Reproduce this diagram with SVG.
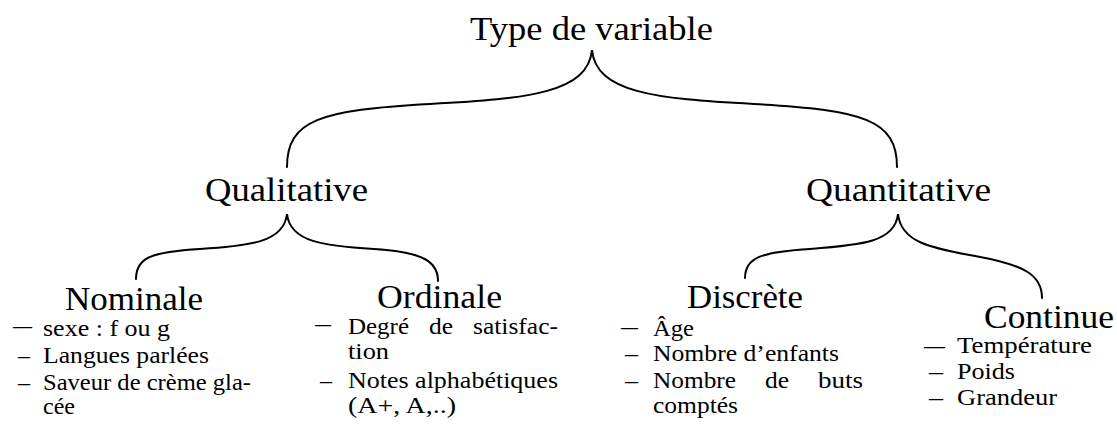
<svg xmlns="http://www.w3.org/2000/svg" width="1117" height="427" viewBox="0 0 1117 427">
<style>
.h{font-size:34px}
.i{font-size:24px}
.br{fill:none;stroke:#000;stroke-width:2;stroke-linecap:round}
</style>
<rect width="1117" height="427" fill="#fff"/>
<g id="connectors">
<path class="br" d="M287,167 C287,120 320,110 430,104 C530,99 588,92 592,50 C596,92 654,99 754,104 C864,110 897,120 897,167"/>
<path class="br" d="M136,279 C136,258 150,252 200,249 C250,246 284,242 287,214 C290,242 324,246 374,249 C424,252 438,262 438,281"/>
<path class="br" d="M745,278 C745,258 760,252 810,249 C862,245 895,242 898,214 C901,242 930,248 975,256 C1025,265 1042,275 1042,298"/>
</g>
<g font-family="Liberation Serif, Times New Roman, serif" fill="#000">
<g id="type">
<text class="h" x="470" y="40" textLength="243" lengthAdjust="spacingAndGlyphs">Type de variable</text>
</g>
<g id="qualitative">
<text class="h" x="205" y="201" textLength="163" lengthAdjust="spacingAndGlyphs">Qualitative</text>
</g>
<g id="quantitative">
<text class="h" x="806" y="201" textLength="185" lengthAdjust="spacingAndGlyphs">Quantitative</text>
</g>
<g id="nominale">
<text class="h" x="65" y="310" textLength="138" lengthAdjust="spacingAndGlyphs">Nominale</text>
<text class="i" x="13" y="333" textLength="19" lengthAdjust="spacingAndGlyphs">—</text>
<text class="i" x="43" y="336" textLength="127" lengthAdjust="spacingAndGlyphs">sexe : f ou g</text>
<text class="i" x="18" y="363" textLength="12" lengthAdjust="spacingAndGlyphs">–</text>
<text class="i" x="43" y="363" textLength="166" lengthAdjust="spacingAndGlyphs">Langues parlées</text>
<text class="i" x="18" y="390" textLength="12" lengthAdjust="spacingAndGlyphs">–</text>
<text class="i" x="43" y="390" textLength="208" lengthAdjust="spacingAndGlyphs">Saveur de crème gla-</text>
<text class="i" x="43" y="414" textLength="32" lengthAdjust="spacingAndGlyphs">cée</text>
</g>
<g id="ordinale">
<text class="h" x="377" y="308" textLength="125" lengthAdjust="spacingAndGlyphs">Ordinale</text>
<text class="i" x="315" y="331" textLength="16" lengthAdjust="spacingAndGlyphs">—</text>
<text class="i" x="348" y="334" textLength="61" lengthAdjust="spacingAndGlyphs">Degré</text>
<text class="i" x="429" y="334" textLength="24" lengthAdjust="spacingAndGlyphs">de</text>
<text class="i" x="473" y="334" textLength="85" lengthAdjust="spacingAndGlyphs">satisfac-</text>
<text class="i" x="348" y="359" textLength="41" lengthAdjust="spacingAndGlyphs">tion</text>
<text class="i" x="320" y="388" textLength="12" lengthAdjust="spacingAndGlyphs">–</text>
<text class="i" x="348" y="388" textLength="210" lengthAdjust="spacingAndGlyphs">Notes alphabétiques</text>
<text class="i" x="348" y="413" textLength="108" lengthAdjust="spacingAndGlyphs">(A+, A,..)</text>
</g>
<g id="discrete">
<text class="h" x="687" y="308" textLength="116" lengthAdjust="spacingAndGlyphs">Discrète</text>
<text class="i" x="621" y="334" textLength="17" lengthAdjust="spacingAndGlyphs">—</text>
<text class="i" x="653" y="336" textLength="41" lengthAdjust="spacingAndGlyphs">Âge</text>
<text class="i" x="625" y="361" textLength="13" lengthAdjust="spacingAndGlyphs">–</text>
<text class="i" x="653" y="361" textLength="186" lengthAdjust="spacingAndGlyphs">Nombre d’enfants</text>
<text class="i" x="625" y="388" textLength="13" lengthAdjust="spacingAndGlyphs">–</text>
<text class="i" x="653" y="388" textLength="83" lengthAdjust="spacingAndGlyphs">Nombre</text>
<text class="i" x="765" y="388" textLength="24" lengthAdjust="spacingAndGlyphs">de</text>
<text class="i" x="818" y="388" textLength="45" lengthAdjust="spacingAndGlyphs">buts</text>
<text class="i" x="653" y="413" textLength="85" lengthAdjust="spacingAndGlyphs">comptés</text>
</g>
<g id="continue">
<text class="h" x="984" y="328" textLength="130" lengthAdjust="spacingAndGlyphs">Continue</text>
<text class="i" x="924" y="353" textLength="21" lengthAdjust="spacingAndGlyphs">—</text>
<text class="i" x="957" y="353" textLength="135" lengthAdjust="spacingAndGlyphs">Température</text>
<text class="i" x="929" y="379" textLength="14" lengthAdjust="spacingAndGlyphs">–</text>
<text class="i" x="957" y="379" textLength="58" lengthAdjust="spacingAndGlyphs">Poids</text>
<text class="i" x="929" y="405" textLength="14" lengthAdjust="spacingAndGlyphs">–</text>
<text class="i" x="957" y="405" textLength="100" lengthAdjust="spacingAndGlyphs">Grandeur</text>
</g>
</g>
</svg>
